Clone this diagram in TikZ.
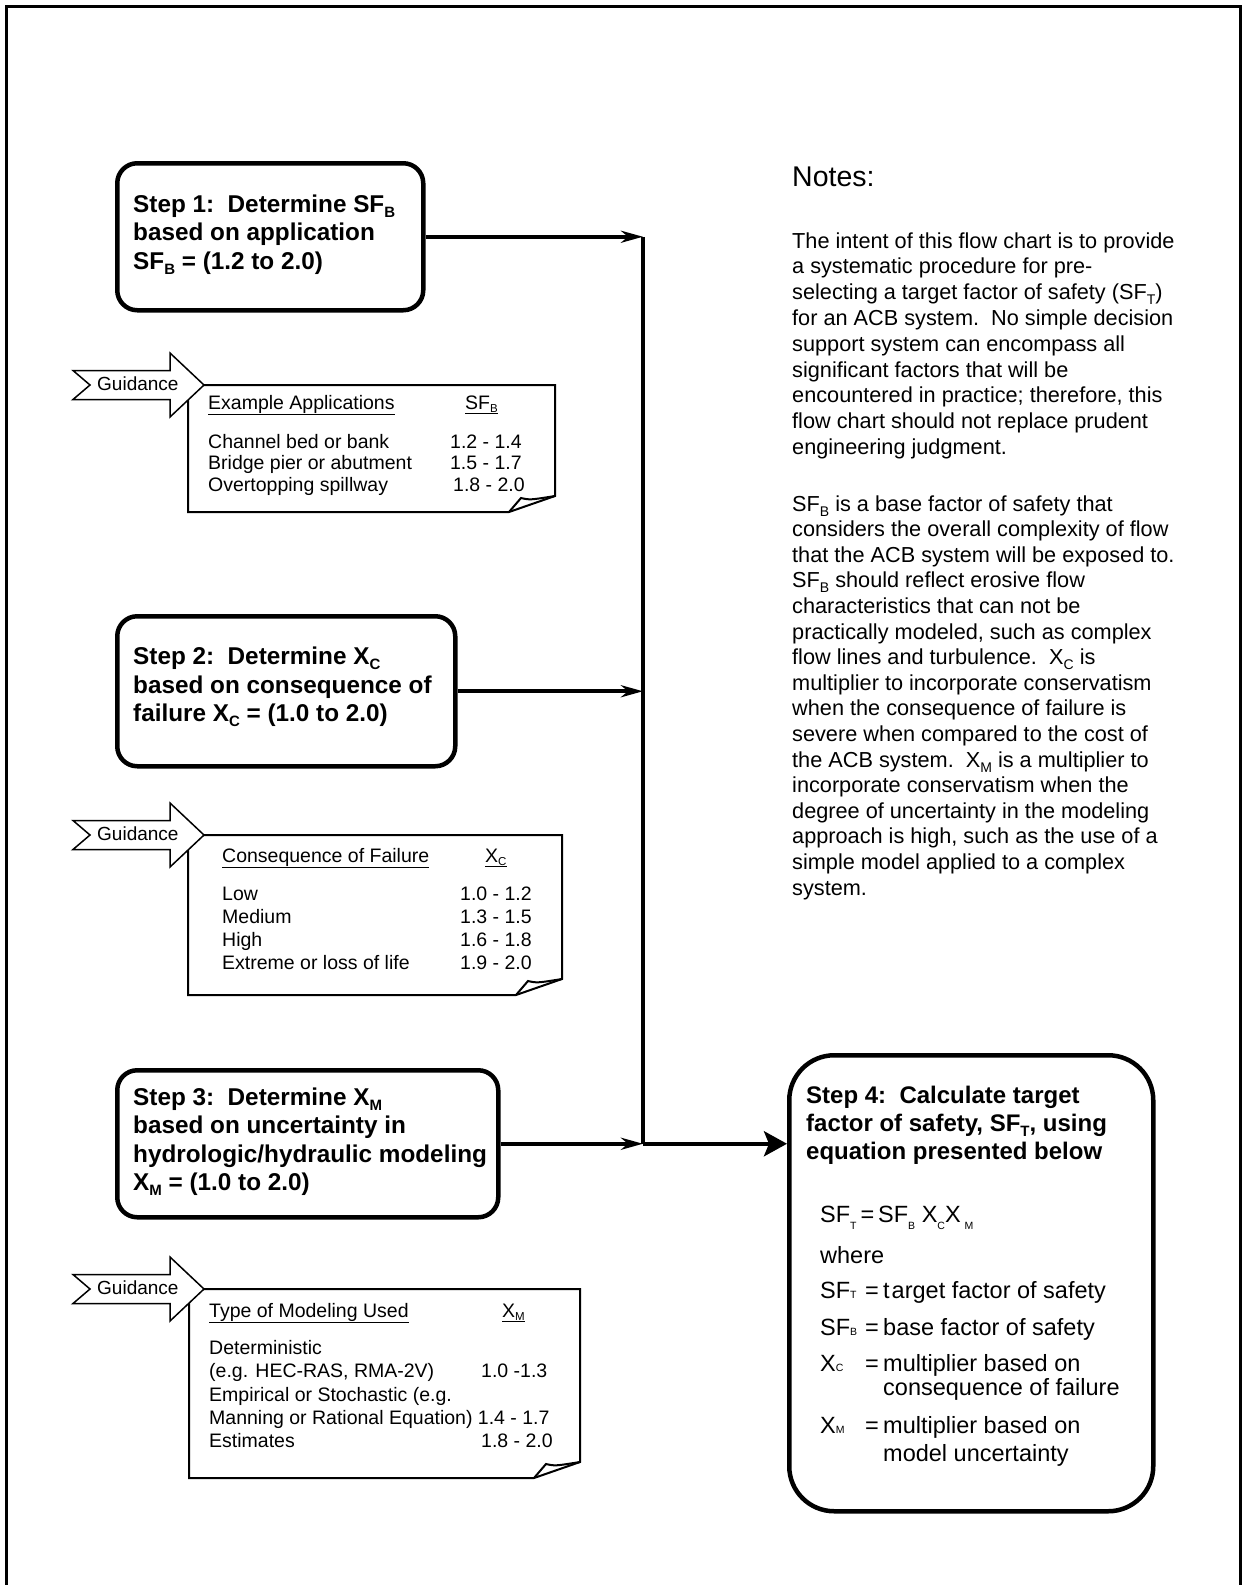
\documentclass[tikz,border=0pt]{standalone}
\usepackage{fontspec}
\setmainfont{Liberation Sans}
\usetikzlibrary{arrows.meta}
\newcommand{\fs}[2]{\fontsize{#1}{#2}\selectfont}
\newcommand{\dn}[3]{\raisebox{#2}{\fontsize{#1}{#1}\selectfont #3}}
\newcommand{\ssub}[1]{\dn{15}{-5pt}{#1}}
\newcommand{\nsub}[1]{\dn{14}{-5pt}{#1}}
\newcommand{\gsub}[1]{\dn{11.5}{-3pt}{#1}}
\newcommand{\lsub}[1]{\dn{10.5}{-7pt}{#1}}
\newcommand{\tsub}[1]{\dn{10.5}{0pt}{#1}}
\newcommand{\notebox}[4]{%
  \draw[noteline] (#3,#4-16) -- (#3,#2) -- (#1,#2) -- (#1,#4) -- (#3-46,#4) -- cycle;
  \draw[noteline] (#3-46,#4) -- (#3-34,#4-14) .. controls (#3-25,#4-12) .. (#3,#4-16);}
\newcommand{\guidearrow}[2]{%
  \draw[garrow] (73,#2-14.5) -- (170,#2-14.5) -- (170,#2-32) -- (204,#2) -- (170,#2+32) -- (170,#2+14.5) -- (73,#2+14.5) -- (90,#2) -- cycle;
  \node[gtext] (#1) at (97,#2+5) {Guidance};}
\begin{document}
\begin{tikzpicture}[x=1pt,y=-1pt,
  stepbox/.style={draw, line width=4.5pt, rounded corners=20pt, inner sep=0, anchor=north west},
  steptext/.style={font=\bfseries\fs{24.3}{28.5}, align=left, inner sep=0, anchor=west},
  conn/.style={line width=4pt},
  smalltip/.style={-{Stealth[length=22pt,width=12pt,inset=7pt]}},
  bigtip/.style={-{Stealth[length=23pt,width=25pt,inset=5pt]}},
  txt/.style={inner sep=0, anchor=base west},
  gtext/.style={inner sep=0, anchor=base west, font=\fs{19}{22}},
  noteline/.style={line width=2pt, line join=miter},
  garrow/.style={draw, fill=white, line width=1.5pt, line join=miter}
]
\useasboundingbox (0,0) rectangle (1242,1585);
\draw[line width=3pt] (6,1585) -- (6,6) -- (1240,6) -- (1240,1585);

% step boxes
\node[stepbox, minimum width=306pt, minimum height=147pt] (s1) at (115,161) {};
\node[stepbox, minimum width=338pt, minimum height=150pt] (s2) at (115,614) {};
\node[stepbox, minimum width=381pt, minimum height=147pt] (s3) at (115,1068) {};
\node[stepbox, rounded corners=45pt, minimum width=364pt, minimum height=456pt] (s4) at (787,1053) {};

\node[steptext] (t1) at (133,234.5) {Step 1:\ \ Determine SF\ssub{B}\\based on application\\SF\ssub{B} = (1.2 to 2.0)};
\node[steptext] (t2) at (133,687) {Step 2:\ \ Determine X\ssub{C}\\based on consequence of\\failure X\ssub{C} = (1.0 to 2.0)};
\node[steptext] (t3) at (133,1141.5) {Step 3:\ \ Determine X\ssub{M}\\based on uncertainty in\\hydrologic/hydraulic modeling\\X\ssub{M} = (1.0 to 2.0)};

% connectors
\coordinate (vx) at (643,0);
\draw[conn, smalltip] (s1.east) -- (s1.east -| vx);
\draw[conn, smalltip] (s2.east) -- (s2.east -| vx);
\draw[conn, smalltip] (s3.east) -- (s3.east -| vx);
\draw[conn] (s1.east -| vx) -- (s3.east -| vx);
\draw[conn, bigtip] (s3.east -| vx) -- (s3.east -| s4.west);

% step 4 text
\node[txt, font=\bfseries\fs{24}{28}] (t4) at (806,1103) {\begin{tabular}[t]{@{}l@{}}Step 4:\ \ Calculate target\\factor of safety, SF\ssub{T}, using\\equation presented below\end{tabular}};
\node[txt, font=\fs{23.5}{26}] (eq) at (820,1222) {SF\lsub{T}\,=\,SF\lsub{B} X\lsub{C}X\,\lsub{M}};
\node[txt, font=\fs{23.5}{26}] (wh) at (820,1263) {where};
\node[txt, font=\fs{23.5}{23}] (defs) at (820,1298) {\begin{tabular}[t]{@{}p{45pt}@{}p{18pt}@{}l@{}}
SF\tsub{T} & = & t\hspace{2pt}arget factor of safety\\[14pt]
SF\tsub{B} & = & base factor of safety\\[12pt]
X\tsub{C} & = & multiplier based on\\
 & & consequence of failure\\[14pt]
X\tsub{M} & = & multiplier based on\\[4pt]
 & & model uncertainty
\end{tabular}};

% notes
\node[txt, font=\fs{28.5}{30}] (nh) at (792,186) {Notes:};
\node[txt, font=\fs{21.7}{25.8}] (n1) at (792,248) {\begin{tabular}[t]{@{}l@{}}
The intent of this flow chart is to provide\\
a systematic procedure for pre-\\
selecting a target factor of safety (SF\nsub{T})\\
for an ACB system.\ \ No simple decision\\
support system can encompass all\\
significant factors that will be\\
encountered in practice; therefore, this\\
flow chart should not replace prudent\\
engineering judgment.
\end{tabular}};
\node[txt, font=\fs{21.7}{25.6}] (n2) at (792,511) {\begin{tabular}[t]{@{}l@{}}
SF\nsub{B} is a base factor of safety that\\
considers the overall complexity of flow\\
that the ACB system will be exposed to.\\
SF\nsub{B} should reflect erosive flow\\
characteristics that can not be\\
practically modeled, such as complex\\
flow lines and turbulence.\ \ X\nsub{C} is\\
multiplier to incorporate conservatism\\
when the consequence of failure is\\
severe when compared to the cost of\\
the ACB system.\ \ X\nsub{M} is a multiplier to\\
incorporate conservatism when the\\
degree of uncertainty in the modeling\\
approach is high, such as the use of a\\
simple model applied to a complex\\
system.
\end{tabular}};

% guidance notes
\notebox{188}{385}{555}{512}
\guidearrow{ga1}{385}
\node[txt, font=\fs{19.5}{21.7}] (g1) at (208,409) {\begin{tabular}[t]{@{}p{242pt}@{}l@{}}
\underline{Example Applications} & \hspace{15pt}\underline{SF\gsub{B}}\\[17.5pt]
Channel bed or bank & 1.2 - 1.4\\
Bridge pier or abutment & 1.5 - 1.7\\
Overtopping spillway & \hspace{3pt}1.8 - 2.0
\end{tabular}};

\notebox{188}{835}{562}{995}
\guidearrow{ga2}{835}
\node[txt, font=\fs{19.5}{23}] (g2) at (222,862) {\begin{tabular}[t]{@{}p{238pt}@{}l@{}}
\underline{Consequence of Failure} & \hspace{25pt}\underline{X\gsub{C}}\\[15pt]
Low & 1.0 - 1.2\\
Medium & 1.3 - 1.5\\
High & 1.6 - 1.8\\
Extreme or loss of life & 1.9 - 2.0
\end{tabular}};

\notebox{189}{1289}{580}{1478}
\guidearrow{ga3}{1289}
\node[txt, font=\fs{19.5}{23.2}] (g3) at (209,1317) {\begin{tabular}[t]{@{}p{272pt}@{}l@{}}
\underline{Type of Modeling Used} & \hspace{21pt}\underline{X\gsub{M}}\\[14.5pt]
Deterministic & \\
(e.g. HEC-RAS, RMA-2V) & 1.0 -1.3\\
Empirical or Stochastic (e.g. & \\
\multicolumn{2}{@{}l@{}}{Manning or Rational Equation) 1.4 - 1.7}\\
Estimates & 1.8 - 2.0
\end{tabular}};
\end{tikzpicture}
\end{document}
